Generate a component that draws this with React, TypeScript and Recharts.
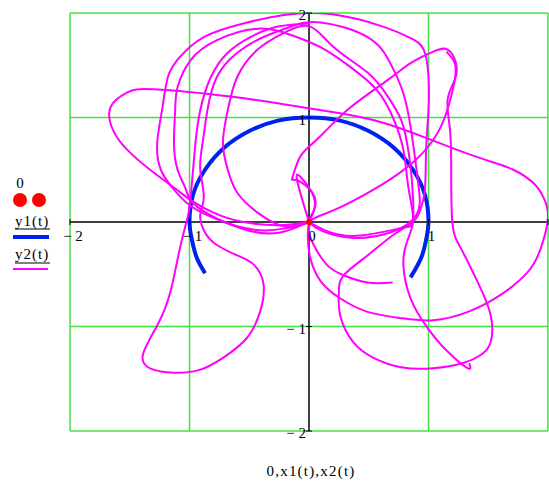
import { ComposedChart, Line, XAxis, YAxis, ReferenceLine, ReferenceDot } from "recharts"

type Pt = { x: number; y: number }
const toPts = (a: number[][]): Pt[] => a.map(([x, y]) => ({ x, y }))

const FONT = "'Liberation Serif', 'Times New Roman', serif"
const GRID = "#44e044"
const MAGENTA = "#ff00ff"
const BLUE = "#0022ee"

const axisTicks = [-2, -1, 0, 1, 2]
const xLabelTicks = [-2, -1, 0, 1]
const gridValues = [-2, -1, 1, 2]
const yLabelTicks = [-2, -1, 1, 2]

// the "0" trace: a single point at the origin
const origin = [[0, 0]]

// y1(t) against x1(t): first pendulum bob
const y1Arc = [
  [0.85, -0.53], [0.94, -0.34], [0.98, -0.17], [1, 0], [0.97, 0.26], [0.87, 0.5],
  [0.71, 0.71], [0.5, 0.87], [0.26, 0.97], [0, 1], [-0.26, 0.97], [-0.5, 0.87],
  [-0.71, 0.71], [-0.87, 0.5], [-0.97, 0.26], [-1, 0], [-0.98, -0.17], [-0.94, -0.34],
  [-0.87, -0.49],
]

// y2(t) against x2(t): second bob, split into pieces
const y2PartA = [
  [0, 0], [-0.01, -0.12], [0.01, -0.34], [0.1, -0.57], [0.26, -0.73], [0.49, -0.86],
  [0.77, -0.92], [1.04, -0.94], [1.33, -0.86], [1.6, -0.7], [1.83, -0.48], [1.94, -0.25],
  [2.0, 0.05], [1.96, 0.24], [1.88, 0.37], [1.71, 0.5], [1.49, 0.59], [1.24, 0.69],
  [0.99, 0.8], [0.62, 0.95], [0.26, 1.04], [-0.07, 1.1], [-0.66, 1.2], [-1.3, 1.27],
  [-1.52, 1.24], [-1.66, 1.1], [-1.64, 0.88], [-1.52, 0.69], [-1.33, 0.5], [-1.13, 0.33],
  [-0.99, 0.21], [-0.8, 0.09], [-0.55, 0.0], [-0.24, -0.03], [0, 0],
]
const y2PartB = [
  [0, 0], [-0.41, -0.08], [-0.82, 0.05], [-1.02, 0.18], [-1.13, 0.31], [-1.24, 0.5],
  [-1.27, 0.76], [-1.23, 1.07], [-1.18, 1.39], [-1.08, 1.58], [-0.88, 1.77], [-0.55, 1.9],
  [-0.21, 1.98], [0.18, 1.99], [0.62, 1.87], [0.85, 1.76], [0.96, 1.65], [1.0, 1.39],
  [1.0, 1.07], [0.98, 0.69], [0.97, 0.31], [0.93, 0.11], [0.87, 0], [0.71, -0.12],
  [0.49, -0.32], [0.29, -0.51], [0.25, -0.67], [0.26, -0.89], [0.37, -1.15], [0.54, -1.3],
  [0.77, -1.39], [1.04, -1.4], [1.29, -1.35], [1.44, -1.27], [1.52, -1.15], [1.52, -0.89],
  [1.41, -0.57], [1.27, -0.25], [1.2, -0.01], [1.19, 0.5], [1.18, 0.88], [1.16, 1.17],
  [1.22, 1.36], [1.23, 1.52], [1.16, 1.65], [1.04, 1.63], [0.85, 1.52], [0.66, 1.36],
  [0.35, 1.1], [0.12, 0.85], [-0.03, 0.69], [-0.09, 0.59], [-0.14, 0.42], [-0.1, 0.4],
  [0.03, 0.28], [0.05, 0.14], [0.01, 0.04], [0, 0],
]
const y2PartC = [
  [0.7, -0.58], [0.49, -0.58], [0.29, -0.51], [0.15, -0.41], [0.04, -0.22], [0, -0.06],
  [0, 0], [-0.24, -0.1], [-0.57, -0.06], [-0.93, 0.14], [-1.03, 0.31], [-1.1, 0.5],
  [-1.13, 0.76], [-1.12, 1.07], [-1.1, 1.29], [-0.99, 1.55], [-0.77, 1.74], [-0.43, 1.85],
  [-0.15, 1.79], [0.1, 1.67], [0.35, 1.48], [0.57, 1.26], [0.71, 0.98], [0.79, 0.69],
  [0.82, 0.43], [0.85, 0.21], [0.87, 0], [0.82, -0.19], [0.79, -0.41], [0.85, -0.73],
  [0.99, -1.01], [1.16, -1.24], [1.33, -1.4], [1.34, -1.35],
]
const y2PartD = [
  [0.01, 1.9], [-0.26, 1.87], [-0.49, 1.77], [-0.68, 1.62], [-0.82, 1.39], [-0.91, 1.07],
  [-0.95, 0.76], [-0.97, 0.5], [-0.99, 0.24], [-1.01, 0.07], [-1.08, -0.25], [-1.16, -0.67],
  [-1.27, -0.99], [-1.39, -1.27], [-1.33, -1.4], [-1.16, -1.44], [-0.93, -1.42], [-0.72, -1.3],
  [-0.52, -1.11], [-0.41, -0.86], [-0.38, -0.6], [-0.46, -0.41], [-0.6, -0.32], [-0.77, -0.22],
  [-0.87, -0.1], [-0.91, 0.07], [-0.88, 0.24], [-0.91, 0.5], [-0.89, 0.76], [-0.85, 1.07],
  [-0.77, 1.39], [-0.6, 1.62], [-0.38, 1.77], [-0.15, 1.87], [0.1, 1.91], [0.49, 1.77],
  [0.68, 1.52], [0.79, 1.23], [0.85, 0.91], [0.89, 0.59], [0.92, 0.31], [0.9, 0.07],
  [0.68, -0.1], [0.35, -0.15], [0.1, -0.08], [0, 0],
]
const y2PartE = [
  [0, 0], [-0.21, -0.04], [-0.43, 0.09], [-0.6, 0.28], [-0.68, 0.5], [-0.72, 0.76],
  [-0.68, 1.07], [-0.6, 1.39], [-0.43, 1.65], [-0.21, 1.81], [0.01, 1.87], [0.21, 1.67],
  [0.49, 1.43], [0.66, 1.2], [0.77, 0.98], [0.82, 0.76], [0.85, 0.53], [0.87, 0.24],
  [0.87, 0], [0.77, -0.06], [0.43, -0.13], [0.18, -0.1], [0, 0],
]
const y2PartF = [
  [0, 0], [0.07, 0.05], [0.26, 0.14], [0.6, 0.35], [0.89, 0.59], [1.08, 0.86],
  [1.17, 1.12], [1.22, 1.36], [1.22, 1.52], [1.15, 1.63],
]
const y2PartG = [
  [0, 0], [-0.1, 0.4], [-0.07, 0.43], [0.01, 0.31], [0.05, 0.16], [0, 0],
]

const y2Parts = [y2PartA, y2PartB, y2PartC, y2PartD, y2PartE, y2PartF, y2PartG]

const fmt = (v: number) => (v < 0 ? `\u2212 ${-v}` : `${v}`)

const xTickShape = (v: number) => (p: any) => (
  <g>
    <line x1={p.cx} y1={p.cy - 3} x2={p.cx} y2={p.cy + 3} stroke="#000" />
    {xLabelTicks.includes(v) && (
      <text x={p.cx + 3} y={p.cy + 19} textAnchor="middle" fontSize={15} fontFamily={FONT} fill="#000">
        {fmt(v)}
      </text>
    )}
  </g>
)

const yTickShape = (v: number) => (p: any) => (
  <g>
    <line x1={p.cx - 3} y1={p.cy} x2={p.cx + 3} y2={p.cy} stroke="#000" />
    <text x={p.cx - 3} y={p.cy + 7} textAnchor="end" fontSize={15} fontFamily={FONT} fill="#000">
      {fmt(v)}
    </text>
  </g>
)

export default function App() {
  return (
    <div style={{ position: "absolute", left: 0, top: 0, width: 549, height: 481, background: "#fff" }}>
      <ComposedChart width={549} height={481} margin={{ top: 13, right: 1, bottom: 50, left: 70 }}>
        <XAxis type="number" dataKey="x" domain={[-2, 2]} ticks={axisTicks} allowDataOverflow hide />
        <YAxis type="number" dataKey="y" domain={[-2, 2]} ticks={axisTicks} allowDataOverflow hide />
        {gridValues.map(v => (
          <ReferenceLine key={"gx" + v} x={v} stroke={GRID} strokeWidth={1.5} ifOverflow="visible" />
        ))}
        {gridValues.map(v => (
          <ReferenceLine key={"gy" + v} y={v} stroke={GRID} strokeWidth={1.5} ifOverflow="visible" />
        ))}
        <ReferenceLine x={0} stroke="#000" strokeWidth={1.5} />
        <ReferenceLine y={0} stroke="#000" strokeWidth={1.5} />
        {axisTicks.map(v => (
          <ReferenceDot key={"tx" + v} x={v} y={0} r={0} ifOverflow="visible" shape={xTickShape(v)} />
        ))}
        {yLabelTicks.map(v => (
          <ReferenceDot key={"ty" + v} x={0} y={v} r={0} ifOverflow="visible" shape={yTickShape(v)} />
        ))}
        {toPts(origin).map((p, i) => (
          <ReferenceDot key={"o" + i} x={p.x} y={p.y} r={3} fill="#ff0000" stroke="none" />
        ))}
        <Line data={toPts(y1Arc)} dataKey="y" type="natural" stroke={BLUE} strokeWidth={4} dot={false} isAnimationActive={false} />
        {y2Parts.map((part, i) => (
          <Line key={"y2" + i} data={toPts(part)} dataKey="y" type="natural" stroke={MAGENTA} strokeWidth={2} dot={false} isAnimationActive={false} />
        ))}
      </ComposedChart>
      <svg width={549} height={481} style={{ position: "absolute", left: 0, top: 0, pointerEvents: "none" }}>
        <g fontFamily={FONT} fontSize={15} fill="#000">
          <text x={20} y={188} textAnchor="middle">0</text>
          <circle cx={20} cy={200} r={7} fill="#ff0000" />
          <circle cx={39} cy={200} r={7} fill="#ff0000" />
          <text x={15} y={226} letterSpacing={1}>y1(t)</text>
          <line x1={15} y1={229} x2={50} y2={229} stroke="#000" />
          <line x1={13} y1={237} x2={49} y2={237} stroke={BLUE} strokeWidth={4} />
          <text x={15} y={259} letterSpacing={1}>y2(t)</text>
          <line x1={15} y1={263} x2={50} y2={263} stroke="#000" />
          <line x1={13} y1={269} x2={48} y2={269} stroke={MAGENTA} strokeWidth={2} />
          <text x={311} y={476} textAnchor="middle" letterSpacing={1.2}>0,x1(t),x2(t)</text>
        </g>
      </svg>
    </div>
  )
}
